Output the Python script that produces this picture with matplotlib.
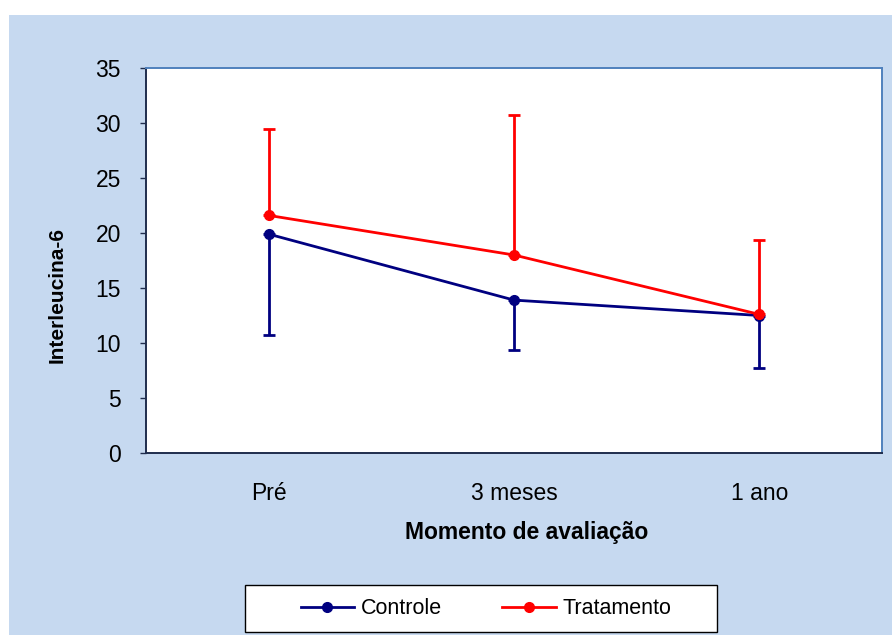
import numpy as np
import matplotlib
matplotlib.use('Agg')
import matplotlib.pyplot as plt
from matplotlib.patches import Rectangle
from matplotlib.lines import Line2D

plt.rcParams['font.family'] = ['Liberation Sans', 'DejaVu Sans']

# IL-6 by evaluation moment (mean and SD)
momentos = ['Pré', '3 meses', '1 ano']
controle_media = [19.9, 13.9, 12.5]
controle_dp = [9.2, 4.5, 4.8]
tratamento_media = [21.6, 18.0, 12.6]
tratamento_dp = [7.9, 12.7, 6.8]

azul = '#000080'
vermelho = '#FF0000'
fundo = '#C6D9F0'

W, H = 892, 635
fig = plt.figure(figsize=(W / 100, H / 100), dpi=100, facecolor='white')

# light blue chart area
fig.patches.append(Rectangle((9 / W, 0), 1 - 9 / W, 1 - 15 / H,
                             transform=fig.transFigure, facecolor=fundo,
                             edgecolor='none', zorder=-5))

ax = fig.add_axes([146 / W, 1 - 453 / H, (882 - 146) / W, (453 - 68) / H])
ax.set_facecolor('white')
ax.set_zorder(1)

x = np.arange(len(momentos))
zero = np.zeros(len(x))

ax.errorbar(x, controle_media, yerr=[controle_dp, zero], color=azul,
            lw=2.0, marker='o', ms=7, capsize=4.5, capthick=2.0,
            elinewidth=2.0, zorder=3)
ax.errorbar(x, tratamento_media, yerr=[zero, tratamento_dp], color=vermelho,
            lw=2.0, marker='o', ms=7, capsize=4.5, capthick=2.0,
            elinewidth=2.0, zorder=4)

ax.set_xlim(-0.5, 2.5)
ax.set_ylim(0, 35)
ax.set_yticks(np.arange(0, 36, 5))
ax.set_xticks(x)
ax.set_xticklabels(momentos)
ax.tick_params(axis='x', length=0, pad=21, labelsize=16.5)
ax.tick_params(axis='y', length=4, width=1, color='#1F2D4D', pad=14,
               labelsize=16.5)

for lado in ['left', 'bottom']:
    ax.spines[lado].set_color('#1F2D4D')
    ax.spines[lado].set_linewidth(1.4)
for lado in ['top', 'right']:
    ax.spines[lado].set_color('#4F81BD')
    ax.spines[lado].set_linewidth(1.4)

fig.text(57 / W, 1 - 295 / H, 'Interleucina-6', rotation=90, ha='center',
         va='center', fontsize=15, fontweight='bold')
fig.text(527 / W, 1 - 533 / H, 'Momento de avaliação', ha='center',
         va='center', fontsize=16.5, fontweight='bold')

# legend box
fig.patches.append(Rectangle((245 / W, 1 - 632 / H), (717 - 245) / W,
                             (632 - 585) / H, transform=fig.transFigure,
                             facecolor='white', edgecolor='black', lw=1.0,
                             zorder=1))
handles = [Line2D([], [], color=azul, lw=2.0, marker='o', ms=7),
           Line2D([], [], color=vermelho, lw=2.0, marker='o', ms=7)]
leg = fig.legend(handles, ['Controle', 'Tratamento'], loc='center',
                 bbox_to_anchor=(486 / W, 1 - 609 / H), ncol=2,
                 frameon=False, fontsize=15.5, handlelength=2.5,
                 handletextpad=0.3, columnspacing=2.8)
leg.set_zorder(2)

fig.savefig('out.png', dpi=100, facecolor='white')
